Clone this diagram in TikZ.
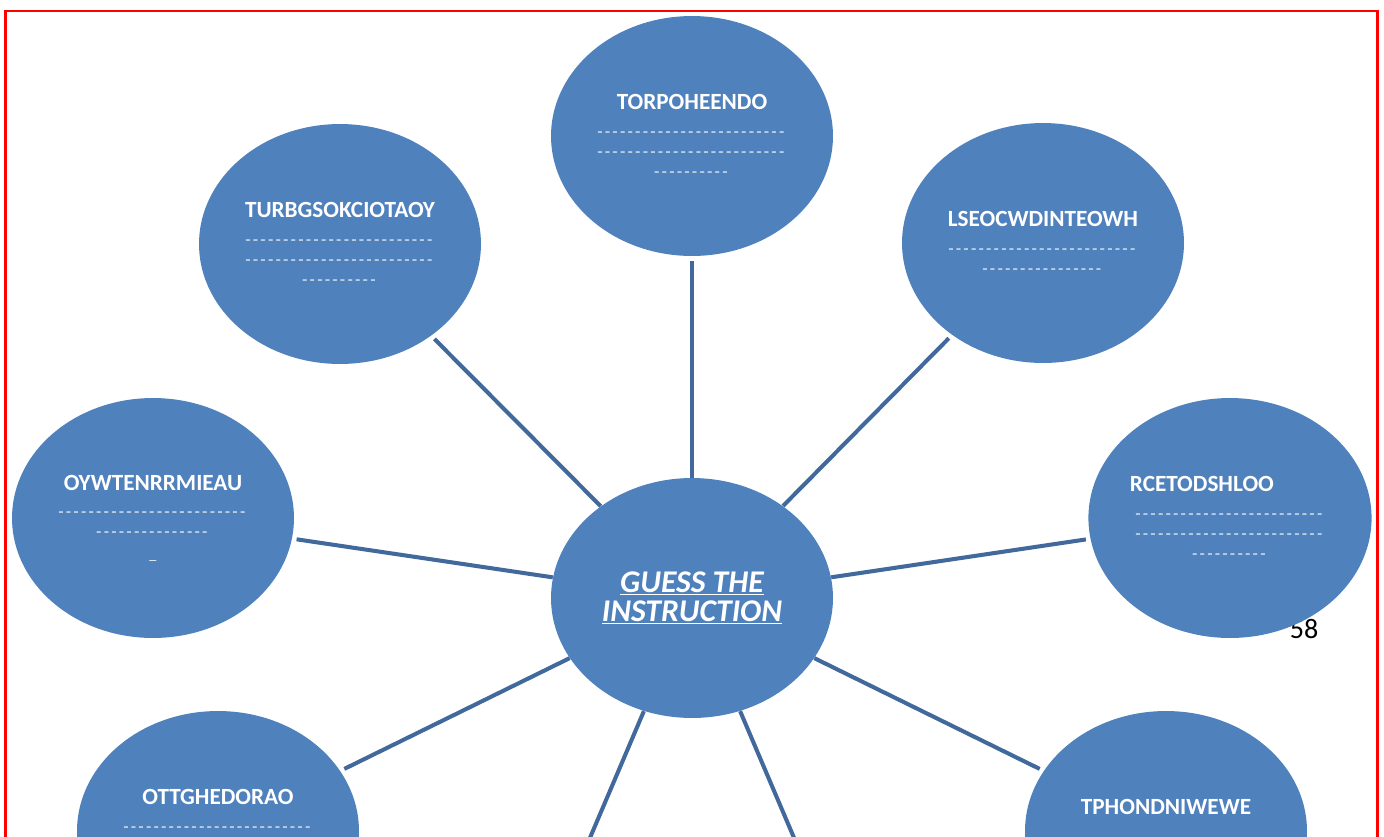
\documentclass[tikz,border=0pt]{standalone}
\usepackage{fontspec}
\setmainfont{Carlito}
\usetikzlibrary{shapes.geometric}

\definecolor{bubblefill}{HTML}{4F81BD}
\definecolor{spokecol}{HTML}{41699B}

\newcommand\dashrow[1]{{\color{white!88!bubblefill}\foreach\k in {1,...,#1}{-\kern1.25pt}}}
\newcommand\ttl{\fontsize{13.2}{15}\selectfont\bfseries}

\tikzset{
  bubble/.style={ellipse, fill=bubblefill, text=white, inner sep=0pt,
    minimum width=5.64cm, minimum height=4.8cm, align=center,
    font=\fontsize{10}{11.3}\selectfont},
  spoke/.style={draw=spokecol, line width=2.3pt},
}

\begin{document}
\begin{tikzpicture}[x=0.02cm, y=-0.02cm]
      \useasboundingbox (0,0) rectangle (1384,836);
      \clip (0,0) rectangle (1384,836);

      \draw[red, line width=1.5pt] (5.5,840) -- (5.5,11) -- (1377.5,11) -- (1377.5,840);

      % page number, half hidden by the right bubble
      \node[font=\fontsize{16}{18}\selectfont] (pg) at (1304,629) {58};

      \node[bubble, font=\fontsize{18}{16.5}\selectfont\bfseries\itshape] (c) at (692,598)
        {\underline{GUESS THE}\\\underline{INSTRUCTION}};

      \node[bubble] (t) at (692,136)
        {{\ttl TORPOHEENDO}\\[4.5pt]\dashrow{25}\\\dashrow{25}\\\dashrow{10}};
      \node[bubble] (tl) at (340,244)
        {{\ttl TURBGSOKCIOTAOY}\\[4.5pt]\dashrow{25}\\\dashrow{25}\\\dashrow{10}};
      \node[bubble] (tr) at (1043,243)
        {{\ttl LSEOCWDINTEOWH}\\[4.5pt]\dashrow{25}\\\dashrow{16}};
      \node[bubble] (l) at (153,518)
        {{\ttl OYWTENRRMIEAU}\\[4.5pt]\dashrow{25}\\\dashrow{15}\\[1pt]{\fontsize{8}{8}\selectfont\_}};
      \node[bubble] (r) at (1230,518)
        {{\ttl RCETODSHLOO\hspace*{32pt}}\\[4.5pt]\dashrow{25}\\\dashrow{25}\\\dashrow{10}};
      \node[bubble, text depth=22.7pt] (bl) at (218,831)
        {{\ttl OTTGHEDORAO}\\[4.5pt]\dashrow{25}};
      \node[bubble, text depth=28pt] (br) at (1166,831)
        {{\ttl TPHONDNIWEWE}};

      \coordinate (dl) at (578,866);
      \coordinate (dr) at (806,866);

      \draw[spoke, shorten <=2.5pt] (t)--(c);
      \draw[spoke, shorten <=2.5pt] (tl)--(c);
      \draw[spoke, shorten <=2.5pt] (tr)--(c);
      \draw[spoke, shorten <=2.5pt] (l)--(c);
      \draw[spoke, shorten <=2.5pt] (r)--(c);
      \draw[spoke, shorten <=2.5pt] (bl)--(c);
      \draw[spoke, shorten <=2.5pt] (br)--(c);
      \draw[spoke] (c)--(dl);
      \draw[spoke] (c)--(dr);
    \end{tikzpicture}
\end{document}
